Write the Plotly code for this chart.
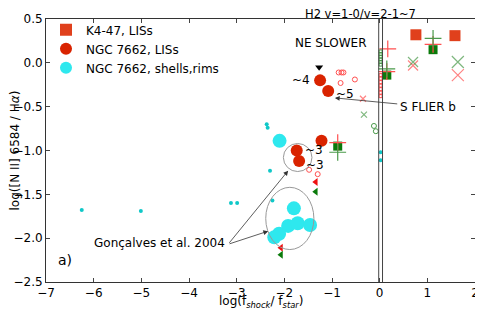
import plotly.graph_objects as go

# K4-47 LISs (red squares, right of x=0)
k4_x = [0.76, 1.58]
k4_y = [0.32, 0.31]
# NGC 7662 LISs (red big circles)
lis_x = [-1.25, -1.08, -1.22, -1.74, -1.69]
lis_y = [-0.20, -0.32, -0.89, -1.00, -1.12]
# NGC 7662 shells, rims (cyan big circles)
shell_x = [-2.10, -1.80, -1.92, -1.72, -1.46, -2.11, -2.21]
shell_y = [-0.89, -1.66, -1.86, -1.83, -1.85, -1.95, -1.99]
# small cyan points
cyan_small_x = [-6.25, -5.01, -3.12, -2.99, -2.37, -2.35, -2.30, -2.25, 0.02, 0.02]
cyan_small_y = [-1.68, -1.69, -1.60, -1.60, -0.70, -0.74, -1.23, -1.57, -1.02, -1.11]
# green squares
gsq_x = [1.12, 0.15, -0.88]
gsq_y = [0.15, -0.14, -0.95]
# red plus
rplus_x = [0.17, 1.12, 0.15, -0.88]
rplus_y = [0.16, 0.21, -0.10, -0.91]
# green plus
gplus_x = [1.12, 0.15, -0.88]
gplus_y = [0.28, -0.07, -1.02]
# red crosses
rx_x = [0.70, 1.64, -0.35]
rx_y = [-0.03, -0.14, -0.41]
# green crosses
gx_x = [0.70, 1.64, -0.33]
gx_y = [0.01, 0.01, -0.59]
# red open small circles
ropen_x = [-0.86, -0.80, -0.76, -0.82, -0.52, -1.48, -1.30]
ropen_y = [-0.11, -0.11, -0.11, -0.23, -0.19, -1.22, -1.27]
# green open small circles
gopen_x = [-0.12, -0.08]
gopen_y = [-0.72, -0.78]
# red / green flags
rflag_x = [-1.34, -2.07]
rflag_y = [-1.36, -2.11]
gflag_x = [-1.34, -2.07]
gflag_y = [-1.47, -2.19]
# markers along x = 0
gzero_y = [0.13, 0.10, 0.07, 0.04, 0.01, -0.02]
rzero_y = [-0.14, -0.18, -0.22, -0.26, -0.30, -0.34, -0.38]
# NE SLOWER marker
tri_x = [-1.27]
tri_y = [-0.05]

RED_SQ = "#e0401c"
RED = "#d92300"
CYAN = "#2ee8ee"
GREEN = "#0a7a0a"
LRED = "#ff5050"
LGREEN = "#4a9a4a"

fig = go.Figure()
fig.add_trace(go.Scatter(x=k4_x, y=k4_y, mode="markers", name="K4-47, LISs",
                         marker=dict(symbol="square", size=11, color=RED_SQ)))
fig.add_trace(go.Scatter(x=lis_x, y=lis_y, mode="markers", name="NGC 7662, LISs",
                         marker=dict(symbol="circle", size=12, color=RED)))
fig.add_trace(go.Scatter(x=shell_x, y=shell_y, mode="markers", name="NGC 7662, shells,rims",
                         marker=dict(symbol="circle", size=14, color=CYAN)))
fig.add_trace(go.Scatter(x=cyan_small_x, y=cyan_small_y, mode="markers", showlegend=False,
                         marker=dict(symbol="circle", size=4, color="#10c8c8")))
fig.add_trace(go.Scatter(x=gsq_x, y=gsq_y, mode="markers", showlegend=False,
                         marker=dict(symbol="square", size=9, color=GREEN)))
fig.add_trace(go.Scatter(x=rplus_x, y=rplus_y, mode="markers", showlegend=False,
                         marker=dict(symbol="cross-thin", size=12, line=dict(color=LRED, width=1.2))))
fig.add_trace(go.Scatter(x=gplus_x, y=gplus_y, mode="markers", showlegend=False,
                         marker=dict(symbol="cross-thin", size=12, line=dict(color=LGREEN, width=1.2))))
fig.add_trace(go.Scatter(x=rx_x, y=rx_y, mode="markers", showlegend=False,
                         marker=dict(symbol="x-thin", size=[10, 12, 6], line=dict(color=LRED, width=1.2))))
fig.add_trace(go.Scatter(x=gx_x, y=gx_y, mode="markers", showlegend=False,
                         marker=dict(symbol="x-thin", size=[10, 12, 6], line=dict(color=LGREEN, width=1.2))))
fig.add_trace(go.Scatter(x=ropen_x, y=ropen_y, mode="markers", showlegend=False,
                         marker=dict(symbol="circle-open", size=5, color=LRED, line=dict(width=1))))
fig.add_trace(go.Scatter(x=gopen_x, y=gopen_y, mode="markers", showlegend=False,
                         marker=dict(symbol="circle-open", size=5, color=LGREEN, line=dict(width=1))))
fig.add_trace(go.Scatter(x=rflag_x, y=rflag_y, mode="markers", showlegend=False,
                         marker=dict(symbol="triangle-left", size=7, color="#ee1111")))
fig.add_trace(go.Scatter(x=gflag_x, y=gflag_y, mode="markers", showlegend=False,
                         marker=dict(symbol="triangle-left", size=7, color=GREEN)))
fig.add_trace(go.Scatter(x=[0.02] * len(gzero_y), y=gzero_y, mode="markers", showlegend=False,
                         marker=dict(symbol="square-open", size=3, color=LGREEN, line=dict(width=1))))
fig.add_trace(go.Scatter(x=[0.02] * len(rzero_y), y=rzero_y, mode="markers", showlegend=False,
                         marker=dict(symbol="square-open", size=3, color=LRED, line=dict(width=1))))
fig.add_trace(go.Scatter(x=tri_x, y=tri_y, mode="markers", showlegend=False,
                         marker=dict(symbol="triangle-down", size=7, color="black")))

shapes = [
    dict(type="line", xref="x", yref="paper", x0=-0.02, x1=-0.02, y0=0, y1=1,
         line=dict(color="#444444", width=1)),
    dict(type="line", xref="x", yref="paper", x0=0.06, x1=0.06, y0=0, y1=1,
         line=dict(color="#444444", width=1)),
    dict(type="circle", xref="x", yref="y", x0=-2.02, x1=-1.42, y0=-0.92, y1=-1.24,
         line=dict(color="#999999", width=1)),
    dict(type="circle", xref="x", yref="y", x0=-2.39, x1=-1.38, y0=-1.42, y1=-2.13,
         line=dict(color="#999999", width=1)),
]

tfont = dict(family="DejaVu Sans", size=12, color="black")
sfont = dict(family="DejaVu Sans", size=12, color="black")
annotations = [
    dict(x=-1.04, y=0.23, text="NE SLOWER", showarrow=False, font=tfont),
    dict(x=-1.66, y=-0.20, text="~4", showarrow=False, font=sfont),
    dict(x=-0.72, y=-0.35, text="~5", showarrow=False, font=sfont),
    dict(x=-1.38, y=-0.99, text="~3", showarrow=False, font=sfont),
    dict(x=-1.36, y=-1.16, text="~3", showarrow=False, font=sfont),
    dict(x=1.02, y=-0.50, text="S FLIER b", showarrow=False, font=tfont),
    dict(x=-0.94, y=-0.40, ax=0.40, ay=-0.47, axref="x", ayref="y", text="",
         showarrow=True, arrowhead=2, arrowsize=1.2, arrowwidth=0.8, arrowcolor="#333333"),
    dict(x=-4.62, y=-2.06, text="Gonçalves et al. 2004", showarrow=False, font=tfont),
    dict(x=-1.92, y=-1.23, ax=-3.18, ay=-2.07, axref="x", ayref="y", text="",
         showarrow=True, arrowhead=2, arrowsize=1.2, arrowwidth=0.8, arrowcolor="#333333"),
    dict(x=-2.34, y=-1.92, ax=-3.18, ay=-2.07, axref="x", ayref="y", text="",
         showarrow=True, arrowhead=2, arrowsize=1.2, arrowwidth=0.8, arrowcolor="#333333"),
    dict(x=-6.6, y=-2.25, text="a)", showarrow=False, font=dict(family="DejaVu Sans", size=14)),
    dict(x=0.867, y=1, xref="paper", yref="paper", yanchor="bottom", yshift=-4,
         text="H2 v=1-0/v=2-1~7", showarrow=False, font=dict(family="DejaVu Sans", size=11.5)),
    # axis titles
    dict(x=0.5, y=0, xref="paper", yref="paper", yanchor="top", yshift=-10,
         text="log(f<sub><i>shock</i></sub>/ f<sub><i>star</i></sub>)", showarrow=False,
         font=dict(family="DejaVu Sans", size=12)),
    dict(x=0, y=0.5, xref="paper", yref="paper", xanchor="center", xshift=-32,
         text="log([N II] 6584 / H<i>α</i>)", textangle=-90, showarrow=False,
         font=dict(family="DejaVu Sans", size=12)),
]

# page body has an 8px default margin, so the figure is made 8px smaller
fig.update_layout(
    width=475, height=302,
    margin=dict(l=38, r=8, t=10, b=28),
    paper_bgcolor="white", plot_bgcolor="white",
    font=dict(family="DejaVu Sans", size=12, color="black"),
    shapes=shapes, annotations=annotations,
    legend=dict(x=0.0, y=1.01, xanchor="left", yanchor="top", bgcolor="rgba(255,255,255,0)",
                font=dict(size=12), itemsizing="constant", tracegroupgap=0),
    xaxis=dict(range=[-7, 2], tickvals=[-7, -6, -5, -4, -3, -2, -1, 0, 1, 2],
               ticktext=["−7", "−6", "−5", "−4", "−3", "−2", "−1", "0", "1", "2"],
               ticks="inside", ticklen=4, mirror="ticks", showline=True, linecolor="#333333",
               linewidth=1, showgrid=False, zeroline=False, automargin=False),
    yaxis=dict(range=[-2.5, 0.5], tickvals=[0.5, 0.0, -0.5, -1.0, -1.5, -2.0, -2.5],
               ticktext=["0.5", "0.0", "−0.5", "−1.0", "−1.5", "−2.0", "−2.5"],
               ticks="inside", ticklen=4, mirror="ticks", showline=True, linecolor="#333333",
               linewidth=1, showgrid=False, zeroline=False, automargin=False),
)

fig.write_html("out.html")
